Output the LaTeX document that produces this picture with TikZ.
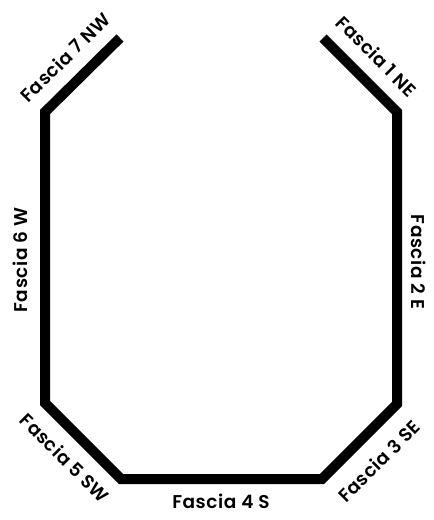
\documentclass[tikz,border=0pt]{standalone}
\usepackage{fontspec}
\setmainfont{Poppins}[BoldFont={Poppins SemiBold}, LetterSpace=3]
\usepackage{tikz}

\tikzset{
  fascia/.style={line width=10pt, line join=miter},
  flabel/.style={font=\fontsize{18.5}{18.5}\selectfont\bfseries, inner sep=0pt}
}

\begin{document}
\begin{tikzpicture}[x=1pt,y=-1pt]
% Frame
\useasboundingbox (0,0) rectangle (434,520);
% Corners of the outline
\coordinate (nwend) at (120,38);
\coordinate (nw) at (45,112);
\coordinate (sw) at (45,403);
\coordinate (ssw) at (121,479);
\coordinate (sse) at (322,479);
\coordinate (se) at (397,404);
\coordinate (ne) at (397,112);
\coordinate (neend) at (323,38);
% Outline
\draw[fascia] (nwend) -- (nw) -- (sw) -- (ssw) -- (sse) -- (se) -- (ne) -- (neend);
% Labels
\node[flabel, rotate=-45] (f1) at (377,56) {Fascia 1 NE};
\node[flabel, rotate=-90] (f2) at (419,262) {Fascia 2 E};
\node[flabel, rotate=45] (f3) at (379,461) {Fascia 3 SE};
\node[flabel] (f4) at (221,501) {Fascia 4 S};
\node[flabel, rotate=-45] (f5) at (65,458) {Fascia 5 SW};
\node[flabel, rotate=90] (f6) at (20,260) {Fascia 6 W};
\node[flabel, rotate=45] (f7) at (65,57) {Fascia 7 NW};
\end{tikzpicture}
\end{document}
